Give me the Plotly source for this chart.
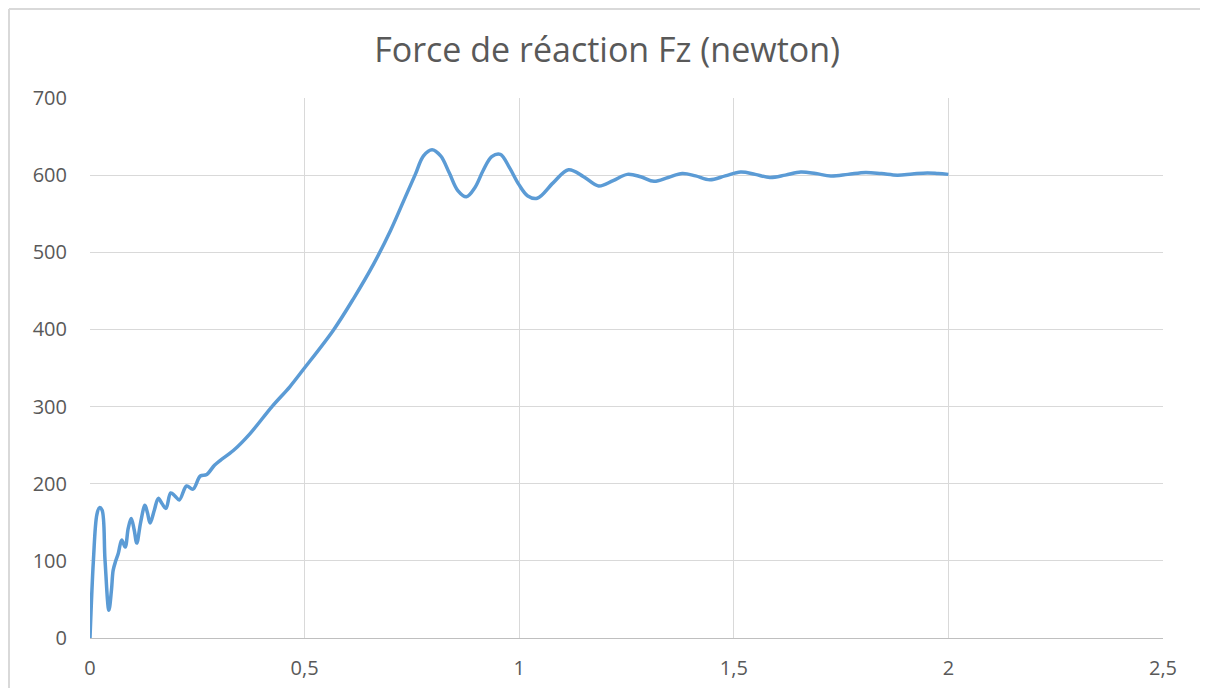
import plotly.graph_objects as go

# Time (s) and reaction force Fz (N)
t = [0.0, 0.008, 0.016, 0.022, 0.028, 0.035, 0.044, 0.050, 0.054, 0.060,
     0.066, 0.074, 0.082, 0.089, 0.096, 0.103, 0.109, 0.118, 0.128, 0.134,
     0.140, 0.150, 0.159, 0.168, 0.177, 0.188, 0.198, 0.208, 0.225, 0.240, 0.257,
     0.272, 0.290, 0.303, 0.334, 0.373, 0.424, 0.466, 0.497, 0.567, 0.614, 0.661,
     0.700, 0.731, 0.758, 0.777, 0.797, 0.817, 0.837, 0.857, 0.877, 0.897, 0.916,
     0.936, 0.956, 0.978, 0.999, 1.020, 1.042, 1.079, 1.115, 1.150, 1.185, 1.219,
     1.252, 1.283, 1.314, 1.347, 1.380, 1.411, 1.444, 1.480, 1.516, 1.550, 1.584,
     1.620, 1.656, 1.691, 1.726, 1.766, 1.807, 1.844, 1.881, 1.916, 1.951, 1.976,
     2.000]
fz = [0, 101, 160, 169, 166, 101, 36, 62, 88, 100,
      110, 127, 118, 142, 155, 140, 123, 150, 172, 162,
      149, 166, 181, 174, 168, 188, 184, 179, 197, 193, 210,
      212, 224, 230, 243, 265, 300, 326, 348, 399, 440, 485,
      528, 567, 601, 625, 633, 625, 603, 580, 572, 584, 606,
      624, 627, 609, 588, 573, 570, 590, 607, 598, 586, 593,
      601, 598, 592, 597, 602, 599, 594, 599, 604, 601, 597,
      600, 604, 602, 599, 601, 603.5, 602, 600, 601.5, 602.8, 602,
      601]

x_ticks = [0, 0.5, 1, 1.5, 2, 2.5]
y_ticks = [0, 100, 200, 300, 400, 500, 600, 700]

fig = go.Figure()
fig.add_trace(go.Scatter(
    x=t, y=fz, mode="lines",
    line=dict(color="#5B9BD5", width=3.5, shape="spline", smoothing=1.0),
    showlegend=False, hoverinfo="skip",
))

grid = "#D9D9D9"
tick_font = dict(family="Open Sans, Liberation Sans, sans-serif", size=20, color="#595959")

fig.update_layout(
    width=1208, height=688,
    margin=dict(l=82, r=53, t=90, b=58),
    paper_bgcolor="white", plot_bgcolor="white",
    separators=", ",
    title=dict(
        text="Force de réaction Fz (newton)",
        x=0.496, xanchor="center", xref="container",
        y=0.939, yanchor="middle", yref="container",
        font=dict(family="Open Sans, Liberation Sans, sans-serif", size=34, color="#595959"),
    ),
    xaxis=dict(
        range=[0, 2.5], tickvals=x_ticks, ticktext=[str(v).replace(".", ",") for v in x_ticks],
        showgrid=True, gridcolor=grid, gridwidth=1,
        zeroline=False, showline=True, linecolor="#BFBFBF", linewidth=1,
        ticks="", tickfont=tick_font, ticklabelstandoff=12,
    ),
    yaxis=dict(
        range=[0, 700], tickvals=y_ticks,
        showgrid=True, gridcolor=grid, gridwidth=1,
        zeroline=False, showline=False,
        ticks="", tickfont=tick_font, ticklabelstandoff=22,
    ),
)

# chart area frame (light grey border, as in the reference)
fig.add_shape(type="line", xref="paper", yref="paper",
              x0=-0.0755, x1=1.1, y0=1.165, y1=1.165,
              line=dict(color="#D9D9D9", width=2))
fig.add_shape(type="line", xref="paper", yref="paper",
              x0=-0.0755, x1=-0.0755, y0=1.165, y1=-0.2,
              line=dict(color="#D9D9D9", width=2))

fig.write_html("out.html")
